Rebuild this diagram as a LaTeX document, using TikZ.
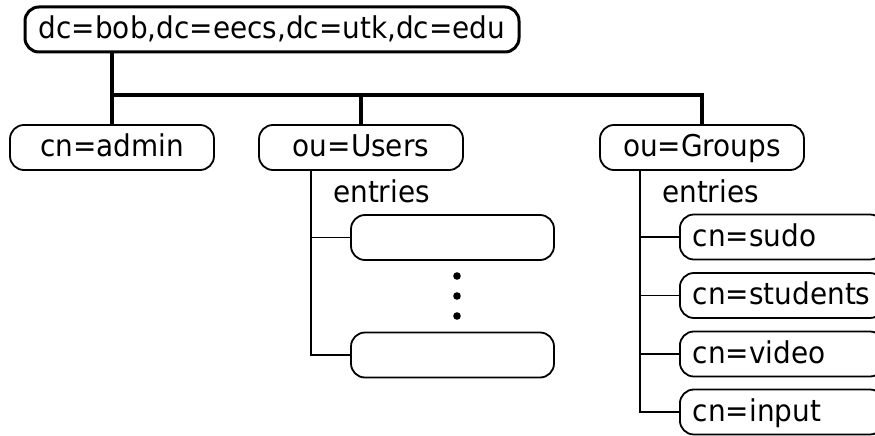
\documentclass[tikz,border=0pt]{standalone}
\usepackage{fontspec}
\setmainfont{DejaVu Sans}[FakeStretch=0.93]
\begin{document}
\begin{tikzpicture}[x=1pt,y=-1pt,
  every node/.style={font=\fontsize{30}{34}\selectfont},
  box/.style={draw, rounded corners=14pt, line width=1.8pt, minimum width=204pt, minimum height=45pt, inner sep=0pt, text height=22pt, text depth=4pt},
  rootbox/.style={box, line width=3pt, minimum width=494pt},
  leftbox/.style={box, anchor=west, text width=178pt, align=left, inner xsep=13pt},
  tree/.style={line width=3.4pt},
  twig/.style={line width=1.8pt},
  lbl/.style={anchor=base west, inner sep=0pt}]
\useasboundingbox (0,0) rectangle (875,436);
\node[rootbox] (root) at (272,29.5) {dc=bob,dc=eecs,dc=utk,dc=edu};
\node[box] (admin) at (112,147.5) {cn=admin};
\node[box] (users) at (361,147.5) {ou=Users};
\node[box] (groups) at (702,147.5) {ou=Groups};
\coordinate (bus) at (0,95);
\draw[tree] (admin.north |- root.south) -- (admin.north);
\draw[tree] (admin.north |- bus) -- (groups.north |- bus) -- (groups.north);
\draw[tree] (users.north |- bus) -- (users.north);
% Users entries
\node[lbl] (uent) at (333,202) {entries};
\node[box, minimum width=203pt] (u1) at (452.5,237.5) {};
\node[box, minimum width=203pt] (u2) at (452.5,355) {};
\coordinate (ux) at (311,0);
\draw[twig] (ux |- users.south) -- (ux |- u2.west) -- (u2.west);
\draw[twig] (ux |- u1.west) -- (u1.west);
\foreach \y [count=\i] in {276,296,316} \fill (457,\y) circle (3.8pt) coordinate (dot\i);
% Groups entries
\node[lbl] (gent) at (662,202) {entries};
\node[leftbox] (g1) at (679,237) {cn=sudo};
\node[leftbox] (g2) at (679,295.5) {cn=students};
\node[leftbox] (g3) at (679,354) {cn=video};
\node[leftbox] (g4) at (679,412) {cn=input};
\coordinate (gx) at (640,0);
\draw[twig] (gx |- groups.south) -- (gx |- g4.west) -- (g4.west);
\draw[twig] (gx |- g1.west) -- (g1.west);
\draw[twig] (gx |- g2.west) -- (g2.west);
\draw[twig] (gx |- g3.west) -- (g3.west);
\end{tikzpicture}
\end{document}
